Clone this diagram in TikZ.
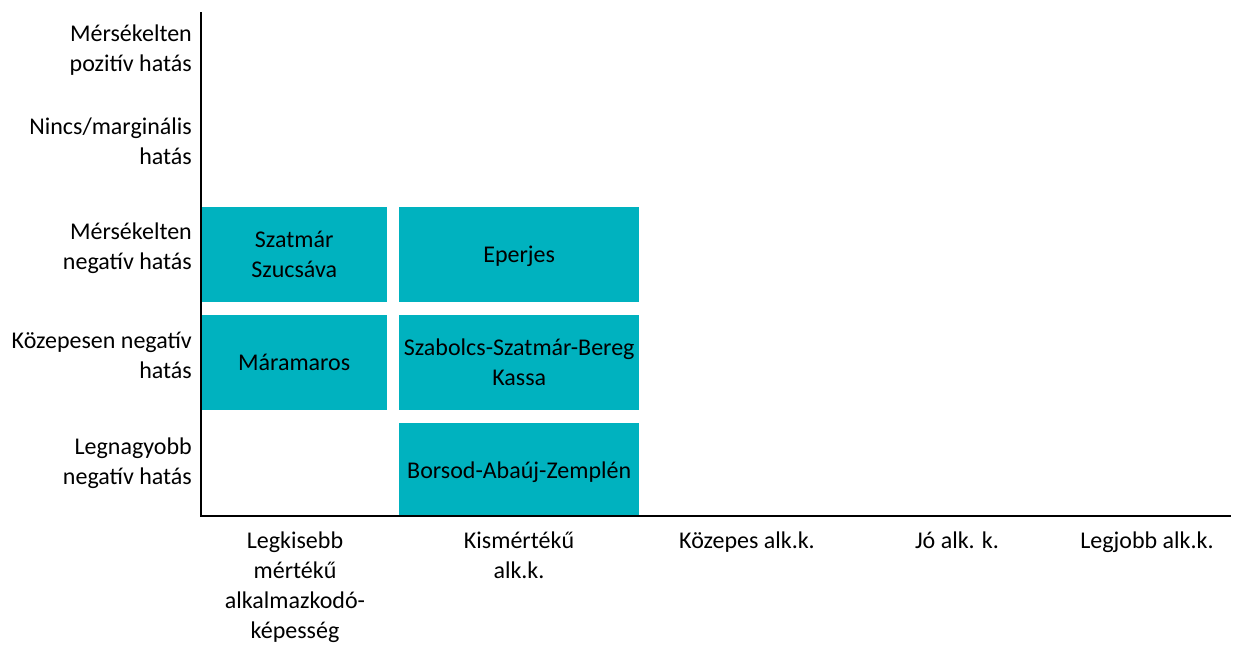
\documentclass[tikz,border=0pt]{standalone}
\usepackage{fontspec}
\setmainfont{Carlito}
\definecolor{cellteal}{RGB}{0,178,191}
\tikzset{
  cell/.style={fill=cellteal, inner sep=0pt, align=center, anchor=north west},
  rowlabel/.style={anchor=east, align=right, inner sep=0pt},
  collabel/.style={anchor=north, align=center, inner sep=0pt},
}

\begin{document}
\begin{tikzpicture}[x=1pt, y=-1pt, font=\fontsize{24}{30}\selectfont]
    \useasboundingbox (0, 0) rectangle (1233, 646);

    \coordinate (origin) at (201, 516);
    \coordinate (ytop) at (201, 12);
    \coordinate (xend) at (1231, 516);

    \node[cell, minimum width=186, minimum height=95] (szatmar) at (201, 207) {Szatmár\\Szucsáva};
    \node[cell, minimum width=240, minimum height=95, text depth=0pt] (eperjes) at (399, 207) {Eperjes};
    \node[cell, minimum width=186, minimum height=95] (maramaros) at (201, 315) {Máramaros};
    \node[cell, minimum width=240, minimum height=95] (szabolcs) at (399, 315) {Szabolcs-Szatmár-Bereg\\Kassa};
    \node[cell, minimum width=240, minimum height=93, text depth=0pt] (borsod) at (399, 423) {Borsod-Abaúj-Zemplén};

    \draw[line width=2pt] (ytop) -- (origin) -- (xend);

    \node[rowlabel] (modpos) at (192, 50) {Mérsékelten\\pozitív hatás};
    \node[rowlabel] (nincs) at (192, 141.5) {Nincs/marginális\\hatás};
    \node[rowlabel] (modneg) at (192, 248) {Mérsékelten\\negatív hatás};
    \node[rowlabel] (kozneg) at (192, 355.5) {Közepesen negatív\\hatás};
    \node[rowlabel] (legneg) at (192, 463) {Legnagyobb\\negatív hatás};

    \node[collabel] (legkisebb) at (295, 532) {Legkisebb\\mértékű\\alkalmazkodó-\\képesség};
    \node[collabel] (kismerteku) at (519, 532) {Kismértékű\\alk.k.};
    \node[collabel] (kozepes) at (747, 532) {Közepes alk.k.};
    \node[collabel] (jo) at (957, 532) {Jó alk. k.};
    \node[collabel] (legjobb) at (1147, 532) {Legjobb alk.k.};
\end{tikzpicture}
\end{document}
